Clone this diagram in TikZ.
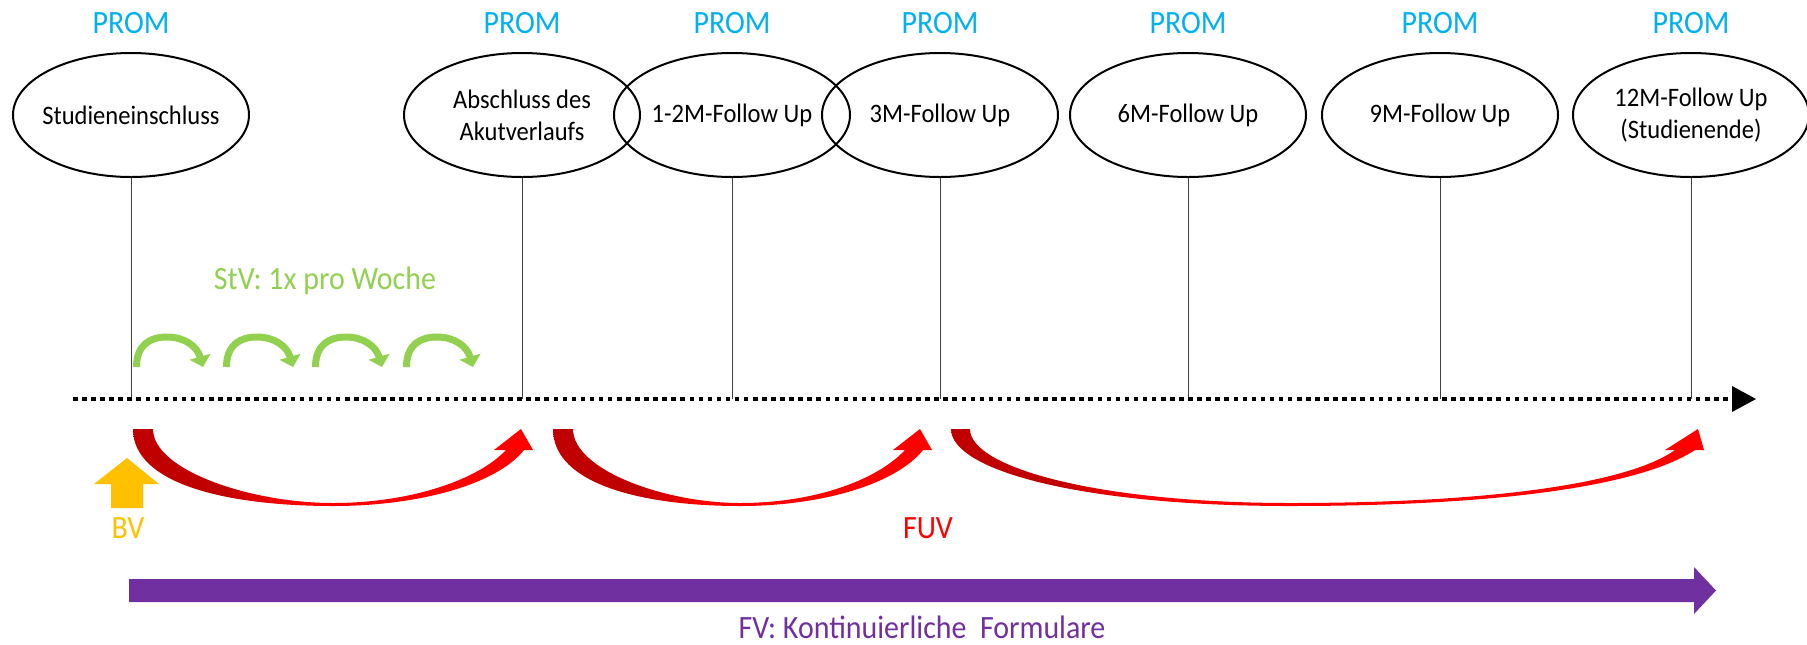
\documentclass[tikz,border=0pt]{standalone}
\usepackage{fontspec}
\setmainfont{Carlito}[FakeStretch=0.92]
\usetikzlibrary{shapes.geometric,positioning,arrows.meta}

\definecolor{promblue}{RGB}{0,176,240}
\definecolor{stvgreen}{RGB}{146,208,80}
\definecolor{bvyellow}{RGB}{255,192,0}
\definecolor{fuvred}{RGB}{255,0,0}
\definecolor{fuvdark}{RGB}{192,0,0}
\definecolor{fvpurple}{RGB}{112,48,160}

\pgfdeclarehorizontalshading{ribbon}{100bp}{color(0bp)=(fuvdark); color(36bp)=(fuvdark); color(45bp)=(fuvred); color(100bp)=(fuvred)}
\pgfdeclarehorizontalshading{ribbonlong}{100bp}{color(0bp)=(fuvdark); color(32bp)=(fuvdark); color(38bp)=(fuvred); color(100bp)=(fuvred)}

\tikzset{
  visit/.style={ellipse, draw, line width=1.5pt, minimum width=177pt, minimum height=93pt,
    inner xsep=-5pt, inner ysep=0pt, align=center, font=\fontsize{20}{24}\selectfont},
  prom/.style={inner sep=0pt, text=promblue, font=\fontsize{24.4}{28}\selectfont},
  tag/.style={inner sep=0pt, anchor=base, font=\fontsize{24.4}{28}\selectfont},
  tickline/.style={line width=0.75pt, black!75},
  timeaxis/.style={line width=3.4pt, dash pattern=on 3.4pt off 3.4pt},
  stvarrow/.style={line width=5.25pt, draw=stvgreen, -{Triangle[length=8pt,width=16pt]}},
}

\begin{document}
\begin{tikzpicture}[x=0.75pt,y=0.75pt,yscale=-1,xscale=1]
\useasboundingbox (0,0) rectangle (1807,644);

%Shape: Ellipse
\node[visit] (stud) at (131,115) {Studieneinschluss};
%Shape: Ellipse
\node[visit] (akut) at (522,115) {Abschluss des\\Akutverlaufs};
%Shape: Ellipse
\node[visit] (fuA) at (732,115) {1-2M-Follow Up};
%Shape: Ellipse
\node[visit] (fuB) at (940,115) {3M-Follow Up};
%Shape: Ellipse
\node[visit] (fuC) at (1188,115) {6M-Follow Up};
%Shape: Ellipse
\node[visit] (fuD) at (1440,115) {9M-Follow Up};
%Shape: Ellipse
\node[visit] (fuE) at (1691,115) {12M-Follow Up\\(Studienende)};

% Text Node
\node[prom, above=13.5pt of stud] (pstud) {PROM};
\node[prom, above=13.5pt of akut] (pakut) {PROM};
\node[prom, above=13.5pt of fuA] (pfuA) {PROM};
\node[prom, above=13.5pt of fuB] (pfuB) {PROM};
\node[prom, above=13.5pt of fuC] (pfuC) {PROM};
\node[prom, above=13.5pt of fuD] (pfuD) {PROM};
\node[prom, above=13.5pt of fuE] (pfuE) {PROM};

%Straight Lines
\coordinate (axL) at (73,399);
\coordinate (axR) at (1732,399);
\draw[tickline] (stud.south) -- (stud.south |- axL);
\draw[tickline] (akut.south) -- (akut.south |- axL);
\draw[tickline] (fuA.south) -- (fuA.south |- axL);
\draw[tickline] (fuB.south) -- (fuB.south |- axL);
\draw[tickline] (fuC.south) -- (fuC.south |- axL);
\draw[tickline] (fuD.south) -- (fuD.south |- axL);
\draw[tickline] (fuE.south) -- (fuE.south |- axL);

%Straight Lines (time axis)
\draw[timeaxis] (axL) -- (axR);
\fill (axR) -- ++(0,-13) -- ++(24,13) -- ++(-24,13) -- cycle;

%Curved Arrows (weekly)
\draw[stvarrow] (136.5,367) .. controls (136.5,344) and (151,337) .. (167,337) .. controls (184,337) and (197,346) .. (203,367);
\draw[stvarrow] (226.5,367) .. controls (226.5,344) and (241,337) .. (257,337) .. controls (274,337) and (287,346) .. (293,367);
\draw[stvarrow] (315.5,367) .. controls (315.5,344) and (330,337) .. (346,337) .. controls (363,337) and (376,346) .. (382,367);
\draw[stvarrow] (406.5,367) .. controls (406.5,344) and (421,337) .. (437,337) .. controls (454,337) and (467,346) .. (473,367);

% Text Node
\node[tag, text=stvgreen] (stv) at (325,289) {StV: 1x pro Woche};

%Shape: Curved Up Arrow
\shade[shading=ribbon] (133,429) .. controls (133,485) and (230,506) .. (333,506) .. controls (420,506) and (497,484) .. (524,450) -- (533,450) -- (521,429) -- (494,450) -- (506,450) .. controls (478,480) and (410,503) .. (333,503) .. controls (250,503) and (153,470) .. (153,429) -- cycle;
%Shape: Curved Up Arrow
\shade[shading=ribbon] (553,429) .. controls (553,485) and (645,506) .. (740,506) .. controls (822,506) and (896,484) .. (923,450) -- (932,450) -- (920,429) -- (893,450) -- (905,450) .. controls (877,480) and (815,503) .. (740,503) .. controls (665,503) and (573,470) .. (573,429) -- cycle;
%Shape: Curved Up Arrow
\shade[shading=ribbonlong] (951,429) .. controls (951,470) and (1080,506) .. (1290,506) .. controls (1500,506) and (1640,486) .. (1695,450) -- (1704,450) -- (1698,429) -- (1665,450) -- (1675,450) .. controls (1630,482) and (1500,503) .. (1290,503) .. controls (1100,503) and (970,468) .. (970,429) -- cycle;

%Shape: Up Arrow
\fill[bvyellow] (111,508) -- (111,484) -- (94,484) -- (127,458) -- (159,484) -- (143,484) -- (143,508) -- cycle;

% Text Node
\node[tag, text=bvyellow] (bv) at (128,538) {BV};
% Text Node
\node[tag, text=fuvred] (fuv) at (928,538) {FUV};

%Shape: Right Arrow
\fill[fvpurple] (129,579) -- (1694,579) -- (1694,567) -- (1716,590.5) -- (1694,614) -- (1694,602) -- (129,602) -- cycle;

% Text Node
\node[tag, text=fvpurple] (fv) at (922,638) {FV: Kontinuierliche\ \ Formulare};

\end{tikzpicture}
\end{document}
